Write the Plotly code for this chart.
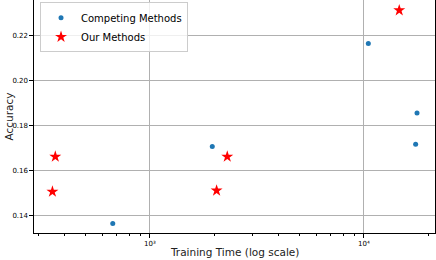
import plotly.graph_objects as go

# Competing methods
comp_time = [670, 1955, 10480, 17700, 17440]
comp_acc = [0.1366, 0.1707, 0.2163, 0.1855, 0.1717]
# Our methods
our_time = [350, 361, 2048, 2297, 14620]
our_acc = [0.1507, 0.1662, 0.1512, 0.1662, 0.2310]

y_ticks = [0.14, 0.16, 0.18, 0.20, 0.22]
x_tickvals = [1000, 10000]
x_ticktext = ["10³", "10⁴"]

fig = go.Figure()
fig.add_trace(go.Scatter(x=comp_time, y=comp_acc, mode="markers", name="Competing Methods",
                         marker=dict(symbol="circle", size=5, color="#1f77b4")))
fig.add_trace(go.Scatter(x=our_time, y=our_acc, mode="markers", name="Our Methods",
                         marker=dict(symbol="star", size=9, color="red", line=dict(width=0))))

fig.update_layout(
    width=436, height=260,
    margin=dict(l=34, r=1, t=0, b=27, autoexpand=False),
    plot_bgcolor="white", paper_bgcolor="white",
    font=dict(family="DejaVu Sans", color="black"),
    legend=dict(x=0.015, y=0.99, xanchor="left", yanchor="top",
                bordercolor="#cccccc", borderwidth=1, bgcolor="rgba(255,255,255,0.8)",
                font=dict(size=10), tracegroupgap=0),
    annotations=[
        dict(text="Training Time (log scale)", xref="paper", yref="paper", x=0.5, y=0,
             yshift=-27, xanchor="center", yanchor="bottom", showarrow=False,
             font=dict(size=10.5, color="#222")),
        dict(text="Accuracy", xref="paper", yref="paper", x=0, y=0.5, xshift=-34,
             xanchor="left", yanchor="middle", textangle=-90, showarrow=False,
             font=dict(size=10.5, color="#222")),
    ],
)
fig.update_xaxes(type="log", range=[2.458, 4.332], automargin=False,
                 tickvals=x_tickvals, ticktext=x_ticktext,
                 tickfont=dict(size=7), ticks="outside", ticklen=3.5, tickcolor="black",
                 showline=True, linecolor="black", linewidth=1.2,
                 showgrid=True, gridcolor="#b0b0b0", gridwidth=1,
                 minor=dict(ticks="outside", ticklen=2, dtick="D1", tickcolor="black", showgrid=False),
                 zeroline=False)
fig.update_yaxes(range=[0.1324, 0.23556], tickvals=y_ticks, automargin=False,
                 ticktext=[f"{v:.2f}" for v in y_ticks],
                 tickfont=dict(size=7), ticks="outside", ticklen=3.5, tickcolor="black",
                 showline=True, linecolor="black", linewidth=1.2, mirror=True,
                 showgrid=True, gridcolor="#b0b0b0", gridwidth=1,
                 zeroline=False)

fig.write_html("out.html", config={"displayModeBar": False},
               post_script="document.body.style.margin='0';document.body.style.padding='0';")
